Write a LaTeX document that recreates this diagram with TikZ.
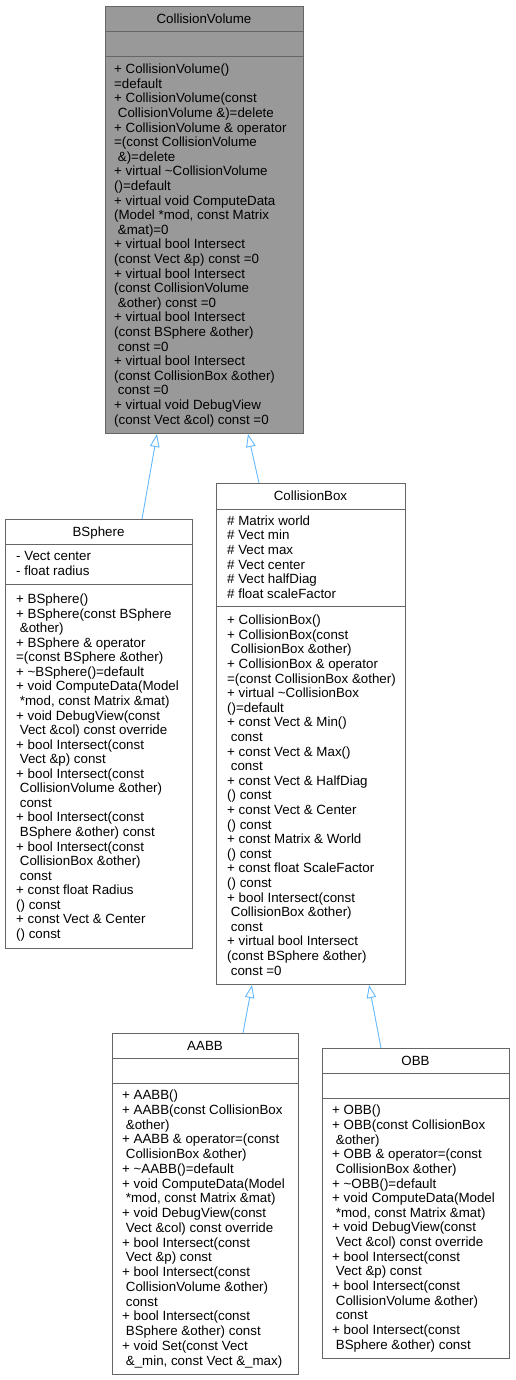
\documentclass[tikz,border=0pt]{standalone}
\usepackage{fontspec}
\setmainfont{Liberation Sans}
\usetikzlibrary{arrows.meta,calc}
\definecolor{bord}{HTML}{666666}
\definecolor{cvfill}{HTML}{999999}
\definecolor{edgeblue}{HTML}{63B8FF}
\newcommand\ind{\hspace*{3.7pt}}
\newcommand\tl{\textasciitilde}
\begin{document}
\begin{tikzpicture}[x=1pt,y=-1pt,
  cls/.style={draw=bord, line width=1pt, anchor=north west, inner sep=0pt, fill=white},
  sepline/.style={draw=bord, line width=1pt},
  ctitle/.style={font=\fontsize{13.33}{14.6}\selectfont, anchor=base, inner sep=0pt},
  body/.style={align=left, anchor=north west, inner sep=0pt},
  inh/.style={draw=edgeblue, line width=0.9pt, -{Triangle[open,length=13pt,width=9.5pt,fill=white]}}]

\useasboundingbox (0,0) rectangle (515,1380);

% ---------- CollisionVolume ----------
\node[cls, fill=cvfill, minimum width=198pt, minimum height=427pt] (cv) at (105,6) {};
\draw[sepline] (cv.west |- 0,32) -- (cv.east |- 0,32);
\draw[sepline] (cv.west |- 0,57) -- (cv.east |- 0,57);
\node[ctitle] (cvt) at (204,23.75) {CollisionVolume};
\node[body, font=\fontsize{13.33}{14.6}\selectfont] (cvm) at (114,63.28) {\strut+ CollisionVolume()\\
=default\\
+ CollisionVolume(const\\
\ind CollisionVolume \&)=delete\\
+ CollisionVolume \& operator\\
=(const CollisionVolume\\
\ind \&)=delete\\
+ virtual \tl CollisionVolume\\
()=default\\
+ virtual void ComputeData\\
(Model *mod, const Matrix\\
\ind \&mat)=0\\
+ virtual bool Intersect\\
(const Vect \&p) const =0\\
+ virtual bool Intersect\\
(const CollisionVolume\\
\ind \&other) const =0\\
+ virtual bool Intersect\\
(const BSphere \&other)\\
\ind const =0\\
+ virtual bool Intersect\\
(const CollisionBox \&other)\\
\ind const =0\\
+ virtual void DebugView\\
(const Vect \&col) const =0};

% ---------- BSphere ----------
\node[cls, minimum width=187pt, minimum height=429pt] (bs) at (5,519) {};
\draw[sepline] (bs.west |- 0,544) -- (bs.east |- 0,544);
\draw[sepline] (bs.west |- 0,584) -- (bs.east |- 0,584);
\node[ctitle] (bst) at (98.5,536.25) {BSphere};
\node[body, font=\fontsize{13.33}{14.5}\selectfont] (bsa) at (16,550.35) {\strut- Vect center\\
- float radius};
\node[body, font=\fontsize{13.33}{14.55}\selectfont] (bsm) at (16,593.3) {\strut+ BSphere()\\
+ BSphere(const BSphere\\
\ind \&other)\\
+ BSphere \& operator\\
=(const BSphere \&other)\\
+ \tl BSphere()=default\\
+ void ComputeData(Model\\
\ind *mod, const Matrix \&mat)\\
+ void DebugView(const\\
\ind Vect \&col) const override\\
+ bool Intersect(const\\
\ind Vect \&p) const\\
+ bool Intersect(const\\
\ind CollisionVolume \&other)\\
\ind const\\
+ bool Intersect(const\\
\ind BSphere \&other) const\\
+ bool Intersect(const\\
\ind CollisionBox \&other)\\
\ind const\\
+ const float Radius\\
() const\\
+ const Vect \& Center\\
() const};

% ---------- CollisionBox ----------
\node[cls, minimum width=189pt, minimum height=501pt] (cb) at (216,483) {};
\draw[sepline] (cb.west |- 0,509) -- (cb.east |- 0,509);
\draw[sepline] (cb.west |- 0,606) -- (cb.east |- 0,606);
\node[ctitle] (cbt) at (310.5,500.75) {CollisionBox};
\node[body, font=\fontsize{13.33}{14.6}\selectfont] (cba) at (227,514.78) {\strut\# Matrix world\\
\# Vect min\\
\# Vect max\\
\# Vect center\\
\# Vect halfDiag\\
\# float scaleFactor};
\node[body, font=\fontsize{13.33}{14.6}\selectfont] (cbm) at (227,614.3) {\strut+ CollisionBox()\\
+ CollisionBox(const\\
\ind CollisionBox \&other)\\
+ CollisionBox \& operator\\
=(const CollisionBox \&other)\\
+ virtual \tl CollisionBox\\
()=default\\
+ const Vect \& Min()\\
\ind const\\
+ const Vect \& Max()\\
\ind const\\
+ const Vect \& HalfDiag\\
() const\\
+ const Vect \& Center\\
() const\\
+ const Matrix \& World\\
() const\\
+ const float ScaleFactor\\
() const\\
+ bool Intersect(const\\
\ind CollisionBox \&other)\\
\ind const\\
+ virtual bool Intersect\\
(const BSphere \&other)\\
\ind const =0};

% ---------- AABB ----------
\node[cls, minimum width=186pt, minimum height=341pt] (aabb) at (112,1033) {};
\draw[sepline] (aabb.west |- 0,1058) -- (aabb.east |- 0,1058);
\draw[sepline] (aabb.west |- 0,1083) -- (aabb.east |- 0,1083);
\node[ctitle] (aabbt) at (205,1050.25) {AABB};
\node[body, font=\fontsize{13.33}{14.75}\selectfont] (aabbm) at (122,1089.18) {\strut+ AABB()\\
+ AABB(const CollisionBox\\
\ind \&other)\\
+ AABB \& operator=(const\\
\ind CollisionBox \&other)\\
+ \tl AABB()=default\\
+ void ComputeData(Model\\
\ind *mod, const Matrix \&mat)\\
+ void DebugView(const\\
\ind Vect \&col) const override\\
+ bool Intersect(const\\
\ind Vect \&p) const\\
+ bool Intersect(const\\
\ind CollisionVolume \&other)\\
\ind const\\
+ bool Intersect(const\\
\ind BSphere \&other) const\\
+ void Set(const Vect\\
\ind \&\_min, const Vect \&\_max)};

% ---------- OBB ----------
\node[cls, minimum width=187pt, minimum height=310pt] (obb) at (322,1048) {};
\draw[sepline] (obb.west |- 0,1073) -- (obb.east |- 0,1073);
\draw[sepline] (obb.west |- 0,1098) -- (obb.east |- 0,1098);
\node[ctitle] (obbt) at (415.5,1065.25) {OBB};
\node[body, font=\fontsize{13.33}{14.66}\selectfont] (obbm) at (332,1104.24) {\strut+ OBB()\\
+ OBB(const CollisionBox\\
\ind \&other)\\
+ OBB \& operator=(const\\
\ind CollisionBox \&other)\\
+ \tl OBB()=default\\
+ void ComputeData(Model\\
\ind *mod, const Matrix \&mat)\\
+ void DebugView(const\\
\ind Vect \&col) const override\\
+ bool Intersect(const\\
\ind Vect \&p) const\\
+ bool Intersect(const\\
\ind CollisionVolume \&other)\\
\ind const\\
+ bool Intersect(const\\
\ind BSphere \&other) const};

% ---------- inheritance ----------
\draw[inh] ($(bs.north west)+(137,0)$) -- ($(cv.south west)+(52,0)$);
\draw[inh] ($(cb.north west)+(43,0)$) -- ($(cv.south west)+(143,0)$);
\draw[inh] ($(aabb.north west)+(131,0)$) -- ($(cb.south west)+(36,0)$);
\draw[inh] ($(obb.north west)+(59,0)$) -- ($(cb.south west)+(153,0)$);
\end{tikzpicture}
\end{document}
